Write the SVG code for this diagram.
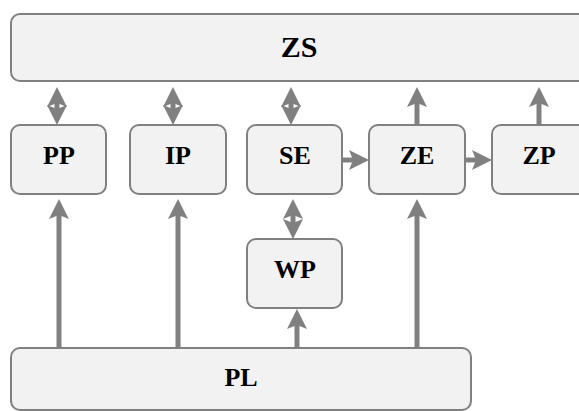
<svg xmlns="http://www.w3.org/2000/svg" width="579" height="411" viewBox="0 0 579 411">
  <style>
    .box { fill: #f2f2f2; stroke: #808080; stroke-width: 2; }
    .shaft { stroke: #808080; stroke-width: 5; fill: none; }
    .head { fill: #808080; stroke: none; }
  </style>
  <defs>
    <!-- arrowhead pointing up, tip at origin -->
    <path id="up" class="head" d="M0,0 L10,20 L0,16 L-10,20 Z"/>
    <!-- arrowhead pointing right, tip at origin -->
    <path id="right" class="head" d="M0,0 L-20,-10 L-16,0 L-20,10 Z"/>
  </defs>

  <g id="connectors">
    <!-- row to ZS: two-way links -->
    <g>
      <line class="shaft" x1="57" y1="100" x2="57" y2="112"/>
      <use href="#up" x="57" y="87"/>
      <use href="#up" transform="translate(57,125) scale(1,-1)"/>
    </g>
    <g>
      <line class="shaft" x1="173" y1="100" x2="173" y2="112"/>
      <use href="#up" x="173" y="87"/>
      <use href="#up" transform="translate(173,125) scale(1,-1)"/>
    </g>
    <g>
      <line class="shaft" x1="291" y1="100" x2="291" y2="112"/>
      <use href="#up" x="291" y="87"/>
      <use href="#up" transform="translate(291,125) scale(1,-1)"/>
    </g>
    <!-- ZE, ZP up to ZS -->
    <line class="shaft" x1="417" y1="125" x2="417" y2="102"/>
    <use href="#up" x="417" y="87"/>
    <line class="shaft" x1="539" y1="125" x2="539" y2="102"/>
    <use href="#up" x="539" y="87"/>

    <!-- SE <-> WP -->
    <line class="shaft" x1="293" y1="212" x2="293" y2="226"/>
    <use href="#up" x="293" y="199"/>
    <use href="#up" transform="translate(293,239) scale(1,-1)"/>

    <!-- horizontal flow -->
    <line class="shaft" x1="342" y1="160" x2="355" y2="160"/>
    <use href="#right" x="369" y="160"/>
    <line class="shaft" x1="465" y1="160" x2="478" y2="160"/>
    <use href="#right" x="492" y="160"/>

    <!-- PL up to the row -->
    <line class="shaft" x1="59" y1="348" x2="59" y2="214"/>
    <use href="#up" x="59" y="199"/>
    <line class="shaft" x1="178" y1="348" x2="178" y2="214"/>
    <use href="#up" x="178" y="199"/>
    <line class="shaft" x1="297" y1="348" x2="297" y2="324"/>
    <use href="#up" x="297" y="309"/>
    <line class="shaft" x1="417" y1="348" x2="417" y2="214"/>
    <use href="#up" x="417" y="199"/>
  </g>

  <g font-family="Liberation Serif, Times New Roman, serif" font-weight="bold" font-size="26" fill="#000000" text-anchor="middle">
    <g id="ZS">
      <rect class="box" x="11" y="14" width="576" height="67" rx="9"/>
      <text x="299" y="57" font-size="30">ZS</text>
    </g>
    <g id="PP">
      <rect class="box" x="11" y="125" width="95" height="69" rx="9"/>
      <text x="59" y="164">PP</text>
    </g>
    <g id="IP">
      <rect class="box" x="130" y="125" width="96" height="69" rx="9"/>
      <text x="178" y="164">IP</text>
    </g>
    <g id="SE">
      <rect class="box" x="247" y="125" width="95" height="69" rx="9"/>
      <text x="295" y="164">SE</text>
    </g>
    <g id="ZE">
      <rect class="box" x="369" y="125" width="96" height="69" rx="9"/>
      <text x="417" y="164">ZE</text>
    </g>
    <g id="ZP">
      <rect class="box" x="492" y="125" width="95" height="69" rx="9"/>
      <text x="539" y="164">ZP</text>
    </g>
    <g id="WP">
      <rect class="box" x="247" y="239" width="95" height="69" rx="9"/>
      <text x="295" y="278">WP</text>
    </g>
    <g id="PL">
      <rect class="box" x="11" y="348" width="460" height="62" rx="9"/>
      <text x="241" y="386">PL</text>
    </g>
  </g>
</svg>
